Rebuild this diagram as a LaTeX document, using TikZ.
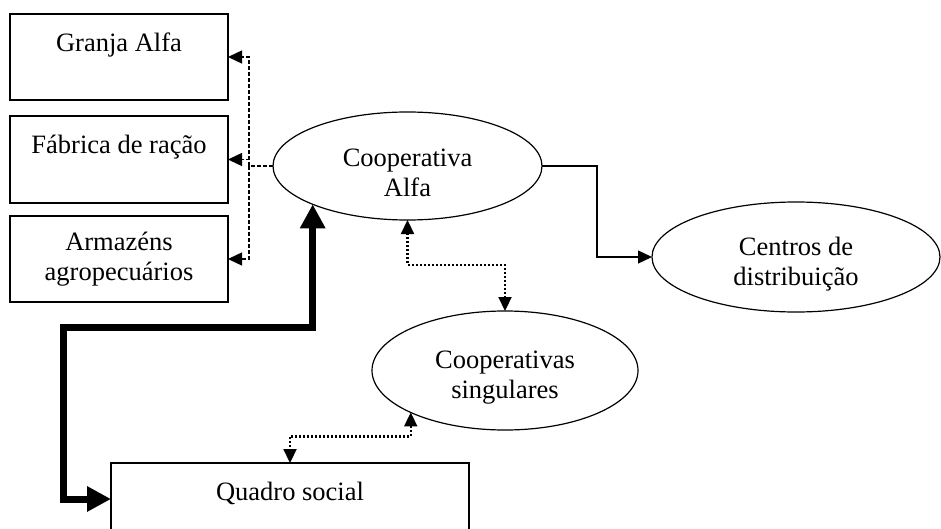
\documentclass[tikz,border=0pt]{standalone}
\usepackage{fontspec}
\setmainfont{Liberation Serif}
\usetikzlibrary{arrows.meta,shapes.geometric}
% taller first line so two-line labels sit a little lower in their ovals
\newcommand\ovaltop{\rule{0pt}{32pt}}
\begin{document}
\begin{tikzpicture}[x=1pt,y=-1pt,
  every node/.style={font=\fontsize{26.5}{30}\selectfont, align=center,
    inner sep=0pt, outer sep=0pt},
  box/.style={draw, line width=1.2pt, rectangle, minimum width=218pt},
  oval/.style={draw, line width=1.2pt, ellipse},
  tip/.style={-{Triangle[length=14pt,width=13pt]}},
  tips/.style={{Triangle[length=14pt,width=13pt]}-{Triangle[length=14pt,width=13pt]}},
  solidline/.style={line width=1.3pt},
  dashline/.style={line width=1.4pt, dash pattern=on 4pt off 2pt},
  dotline/.style={line width=2.2pt, dash pattern=on 2pt off 2pt},
  heavyline/.style={line width=7pt, line join=miter,
    {Triangle[length=24pt,width=24pt]}-{Triangle[length=24pt,width=24pt]}}
]
\useasboundingbox (0,0) rectangle (941,529);

% left column of boxes
\node[box, minimum height=86pt] (granja) at (119,57) {Granja Alfa\\\mbox{}};
\node[box, minimum height=87pt] (fabrica) at (119,159.5) {F\'abrica de ra\c{c}\~ao\\\mbox{}};
\node[box, minimum height=86pt] (armazens) at (119,259) {Armaz\'ens\\agropecu\'arios};

% ellipses
\node[oval, minimum width=269pt, minimum height=108pt] (coop) at (407.5,166) {\ovaltop Cooperativa\\Alfa};
\node[oval, minimum width=288pt, minimum height=110pt] (centros) at (796,257) {\ovaltop Centros de\\distribui\c{c}\~ao};
\node[oval, minimum width=266pt, minimum height=119pt] (singulares) at (505,370.5) {\ovaltop Cooperativas\\singulares};

% bottom box (runs past the lower edge)
\node[box, minimum width=358pt, minimum height=72pt, text height=18pt, text depth=16pt] (quadro) at (290,499) {Quadro social};

% dashed fan-out to the left column
\coordinate (split) at ([xshift=-24pt]coop.west);
\draw[dashline] (coop.west) -- (split);
\draw[dashline, tip] (split) |- (granja.east);
\draw[dashline, tip] (split) |- (fabrica.east);
\draw[dashline, tip] (split) |- (armazens.east);

% solid link to distribution centres
\draw[solidline, tip] (coop.east) -- ++(55,0) |- (centros.west);

% dotted two-way links
\draw[dotline, tips] (coop.south) -- ++(0,45) -| (singulares.north);
\draw[dotline, tips] (singulares.204.6) -- ++(0,24) -| (quadro.north);

% heavy two-way link
\draw[heavyline] (quadro.west) -- ++(-48,0) -- ++(0,-172) -| (coop.202.1);
\end{tikzpicture}
\end{document}
